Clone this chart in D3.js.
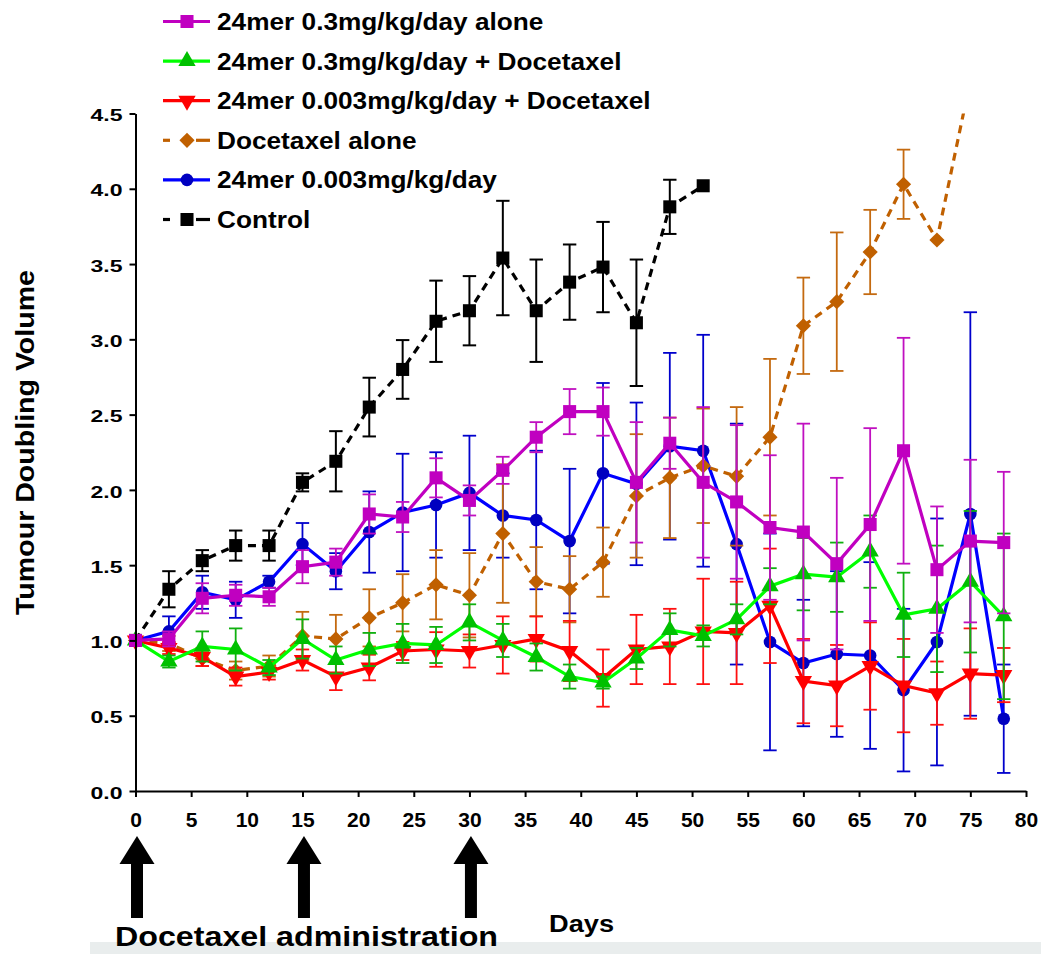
<!DOCTYPE html>
<html>
<head>
<meta charset="utf-8">
<script src="https://cdn.jsdelivr.net/npm/d3@7"></script>
<style>
  html, body { margin: 0; padding: 0; background: #ffffff; }
  svg { display: block; }
  text { font-family: "Liberation Sans", Arial, sans-serif; font-weight: bold; fill: #000; }
</style>
</head>
<body>
<svg id="chart" width="1041" height="954"></svg>
<script>
// ---------------- DATA ----------------
const days = [0,3,6,9,12,15,18,21,24,27,30,33,36,39,42,45,48,51,54,57,60,63,66,69,72,75,78];

const controlVals = [1.00,1.34,1.53,1.63,1.63,2.05,2.19,2.55,2.80,3.12,3.19,3.54,3.19,3.38,3.48,3.11,3.88,4.02];
const controlErr  = [0,0.12,0.07,0.10,0.10,0.06,0.20,0.195,0.195,0.27,0.23,0.38,0.34,0.25,0.30,0.42,0.18,0];

const mag03Vals = [1.00,1.01,1.28,1.30,1.29,1.49,1.52,1.84,1.82,2.08,1.93,2.13,2.35,2.52,2.52,2.05,2.31,2.05,1.92,1.75,1.72,1.51,1.77,2.26,1.47,1.66,1.65];
const mag03Err  = [0,0.05,0.10,0.07,0.06,0.11,0.09,0.13,0.10,0.13,0.10,0.09,0.10,0.15,0.16,0.40,0.17,0.50,0.51,0.48,0.72,0.57,0.64,0.75,0.42,0.54,0.47];

const blue003Vals = [1.00,1.06,1.32,1.27,1.39,1.64,1.46,1.72,1.85,1.90,1.98,1.83,1.80,1.66,2.11,2.04,2.29,2.26,1.64,0.99,0.85,0.91,0.90,0.67,0.99,1.84,0.48];
const blue003Err  = [0,0.10,0.11,0.12,0.04,0.14,0.12,0.27,0.39,0.35,0.38,0.28,0.46,0.48,0.60,0.54,0.62,0.77,0.80,0.72,0.42,0.55,0.62,0.54,0.82,1.34,0.36];

const doceVals = [1.00,0.98,0.88,0.80,0.83,1.03,1.01,1.15,1.25,1.37,1.30,1.71,1.39,1.34,1.52,1.96,2.08,2.16,2.09,2.35,3.09,3.25,3.58,4.03,3.66,4.72];
const doceErr  = [0,0.05,0.05,0.06,0.07,0.16,0.16,0.19,0.19,0.23,0.28,0.46,0.23,0.22,0.23,0.41,0.40,0.38,0.46,0.52,0.32,0.46,0.28,0.23,0,0];

const red003DVals = [1.00,0.95,0.89,0.76,0.79,0.87,0.76,0.82,0.93,0.94,0.93,0.97,1.01,0.93,0.75,0.94,0.96,1.06,1.05,1.23,0.73,0.70,0.83,0.70,0.65,0.78,0.77];
const red003DErr  = [0,0.04,0.06,0.06,0.05,0.07,0.09,0.085,0.06,0.115,0.11,0.19,0.15,0.20,0.19,0.23,0.25,0.35,0.34,0.38,0.28,0.27,0.29,0.31,0.21,0.30,0.18];

const green03DVals = [1.00,0.86,0.96,0.94,0.82,1.01,0.87,0.94,0.98,0.97,1.12,1.00,0.89,0.76,0.72,0.88,1.07,1.03,1.14,1.36,1.44,1.42,1.59,1.17,1.21,1.39,1.16];
const green03DErr  = [0,0.04,0.10,0.14,0.05,0.13,0.09,0.11,0.13,0.12,0.12,0.11,0.09,0.08,0.04,0.07,0.11,0.07,0.10,0.12,0.24,0.23,0.24,0.28,0.42,0.47,0.55];

const legendLabels = [
  "24mer 0.3mg/kg/day alone",
  "24mer 0.3mg/kg/day + Docetaxel",
  "24mer 0.003mg/kg/day + Docetaxel",
  "Docetaxel alone",
  "24mer 0.003mg/kg/day",
  "Control"
];
const yTicks = [0,0.5,1.0,1.5,2.0,2.5,3.0,3.5,4.0,4.5];
const xTicks = [0,5,10,15,20,25,30,35,40,45,50,55,60,65,70,75,80];
const arrowDays = [0,15,30];
const yTitle = "Tumour Doubling Volume";
const xTitle = "Days";
const noteText = "Docetaxel administration";

// ---------------- SETUP ----------------
const svg = d3.select("#chart");
const x = d3.scaleLinear().domain([0, 80]).range([135.5, 1026]);
const y = d3.scaleLinear().domain([0, 4.5]).range([791, 113.5]);

// bottom gray band
svg.append("rect").attr("x", 90).attr("y", 942).attr("width", 951).attr("height", 12).attr("fill", "#e9eded");

svg.append("defs").append("clipPath").attr("id", "plotclip")
  .append("rect").attr("x", 100).attr("y", y(4.5)).attr("width", 960).attr("height", y(0) - y(4.5) + 40);

// series definitions (styles)
const series = [
  { name: "control", vals: controlVals, err: controlErr, line: "#000000", mark: "#000000", errc: "#000000", dash: "8,6", sym: d3.symbolSquare, size: 170 },
  { name: "blue", vals: blue003Vals, err: blue003Err, line: "#0000ff", mark: "#0000c0", errc: "#0000cc", dash: null, sym: d3.symbolCircle, size: 125 },
  { name: "doce", vals: doceVals, err: doceErr, line: "#c06000", mark: "#c06000", errc: "#c46a10", dash: "8,6", sym: d3.symbolSquare, size: 115, rot: 45 },
  { name: "red", vals: red003DVals, err: red003DErr, line: "#ff0000", mark: "#ff0000", errc: "#ff1010", dash: null, sym: d3.symbolTriangle, size: 130, rot: 180 },
  { name: "green", vals: green03DVals, err: green03DErr, line: "#00ff00", mark: "#00c000", errc: "#10b010", dash: null, sym: d3.symbolTriangle, size: 130 },
  { name: "magenta", vals: mag03Vals, err: mag03Err, line: "#c000c0", mark: "#c000c0", errc: "#c010c0", dash: null, sym: d3.symbolSquare, size: 170 }
];

const plot = svg.append("g");
const capHalf = 6.7;

series.forEach(s => {
  const pts = s.vals.map((v, i) => ({ d: days[i], v: v, e: s.err[i] }));
  const g = plot.append("g");
  // error bars
  const eb = g.append("g").attr("stroke", s.errc).attr("stroke-width", s.name === "control" ? 2 : 1.8).attr("fill", "none");
  pts.filter(p => p.e > 0).forEach(p => {
    const cx = x(p.d), yt = y(Math.min(p.v + p.e, 4.5)), yb = y(Math.max(p.v - p.e, 0));
    eb.append("line").attr("x1", cx).attr("x2", cx).attr("y1", yt).attr("y2", yb);
    eb.append("line").attr("x1", cx - capHalf).attr("x2", cx + capHalf).attr("y1", y(p.v + p.e)).attr("y2", y(p.v + p.e));
    eb.append("line").attr("x1", cx - capHalf).attr("x2", cx + capHalf).attr("y1", y(p.v - p.e)).attr("y2", y(p.v - p.e));
  });
  // line
  g.append("path")
    .datum(pts)
    .attr("clip-path", "url(#plotclip)")
    .attr("fill", "none")
    .attr("stroke", s.line)
    .attr("stroke-width", 3.2)
    .attr("stroke-dasharray", s.dash)
    .attr("d", d3.line().x(p => x(p.d)).y(p => y(p.v)));
  // markers
  g.selectAll(".m").data(pts.filter(p => p.v <= 4.5)).join("path")
    .attr("d", d3.symbol().type(s.sym).size(s.size))
    .attr("fill", s.mark)
    .attr("transform", p => `translate(${x(p.d)},${y(p.v)})` + (s.rot ? ` rotate(${s.rot})` : ""));
});

// ---------------- AXES ----------------
const yAxis = svg.append("g").attr("transform", `translate(${x(0)},0)`)
  .call(d3.axisLeft(y).tickValues(yTicks).tickFormat(d3.format(".1f")).tickSize(6).tickPadding(7).tickSizeOuter(0));
yAxis.select(".domain").attr("stroke", "#000").attr("stroke-width", 2);
yAxis.selectAll(".tick line").attr("stroke", "#000").attr("stroke-width", 2);
yAxis.selectAll(".tick text")
  .style("font-family", "'Liberation Sans', Arial, sans-serif").style("font-weight", "bold").style("font-size", "17px")
  .attr("fill", "#000").attr("dy", "0.42em")
  .attr("textLength", 32).attr("lengthAdjust", "spacingAndGlyphs");

const xAxis = svg.append("g").attr("transform", `translate(0,${y(0)})`)
  .call(d3.axisBottom(x).tickValues(xTicks).tickFormat(d3.format("d")).tickSize(6).tickPadding(15).tickSizeOuter(0));
xAxis.select(".domain").attr("stroke", "#000").attr("stroke-width", 2);
xAxis.selectAll(".tick line").attr("stroke", "#000").attr("stroke-width", 2);
xAxis.selectAll(".tick text")
  .style("font-family", "'Liberation Sans', Arial, sans-serif").style("font-weight", "bold").style("font-size", "21px")
  .attr("fill", "#000");

// y title
svg.append("text")
  .attr("transform", "translate(34,442.5) rotate(-90)")
  .attr("text-anchor", "middle")
  .style("font-size", "25px")
  .attr("textLength", 345).attr("lengthAdjust", "spacingAndGlyphs")
  .text(yTitle);

// x title
svg.append("text")
  .attr("x", 549).attr("y", 932)
  .style("font-size", "23px")
  .attr("textLength", 65).attr("lengthAdjust", "spacingAndGlyphs")
  .text(xTitle);

// note
svg.append("text")
  .attr("x", 115).attr("y", 946)
  .style("font-size", "28px")
  .attr("textLength", 383).attr("lengthAdjust", "spacingAndGlyphs")
  .text(noteText);

// arrows
arrowDays.forEach(d => {
  const cx = x(d) + 1.5;
  svg.append("path")
    .attr("d", `M${cx},836 L${cx + 17.5},864 L${cx + 6},864 L${cx + 6},918 L${cx - 6},918 L${cx - 6},864 L${cx - 17.5},864 Z`)
    .attr("fill", "#000");
});

// ---------------- LEGEND ----------------
const legendOrder = ["magenta", "green", "red", "doce", "blue", "control"];
legendOrder.forEach((nm, i) => {
  const s = series.find(t => t.name === nm);
  const base = 30 + i * 39.6;
  const cy = base - 8.5;
  const g = svg.append("g");
  if (s.dash) {
    g.append("line").attr("x1", 163).attr("x2", 170).attr("y1", cy).attr("y2", cy).attr("stroke", s.line).attr("stroke-width", 3.2);
    g.append("line").attr("x1", 196).attr("x2", 210).attr("y1", cy).attr("y2", cy).attr("stroke", s.line).attr("stroke-width", 3.2);
  } else {
    g.append("line").attr("x1", 163).attr("x2", 210).attr("y1", cy).attr("y2", cy).attr("stroke", s.line).attr("stroke-width", 3.2);
  }
  g.append("path").attr("d", d3.symbol().type(s.sym).size(s.size))
    .attr("fill", s.mark)
    .attr("transform", `translate(187,${cy})` + (s.rot ? ` rotate(${s.rot})` : ""));
  const t = g.append("text").attr("x", 217).attr("y", base).style("font-size", "23px").text(legendLabels[i]);
  const w = t.node().getComputedTextLength();
  t.attr("textLength", w * 1.14).attr("lengthAdjust", "spacingAndGlyphs");
});
</script>
</body>
</html>
